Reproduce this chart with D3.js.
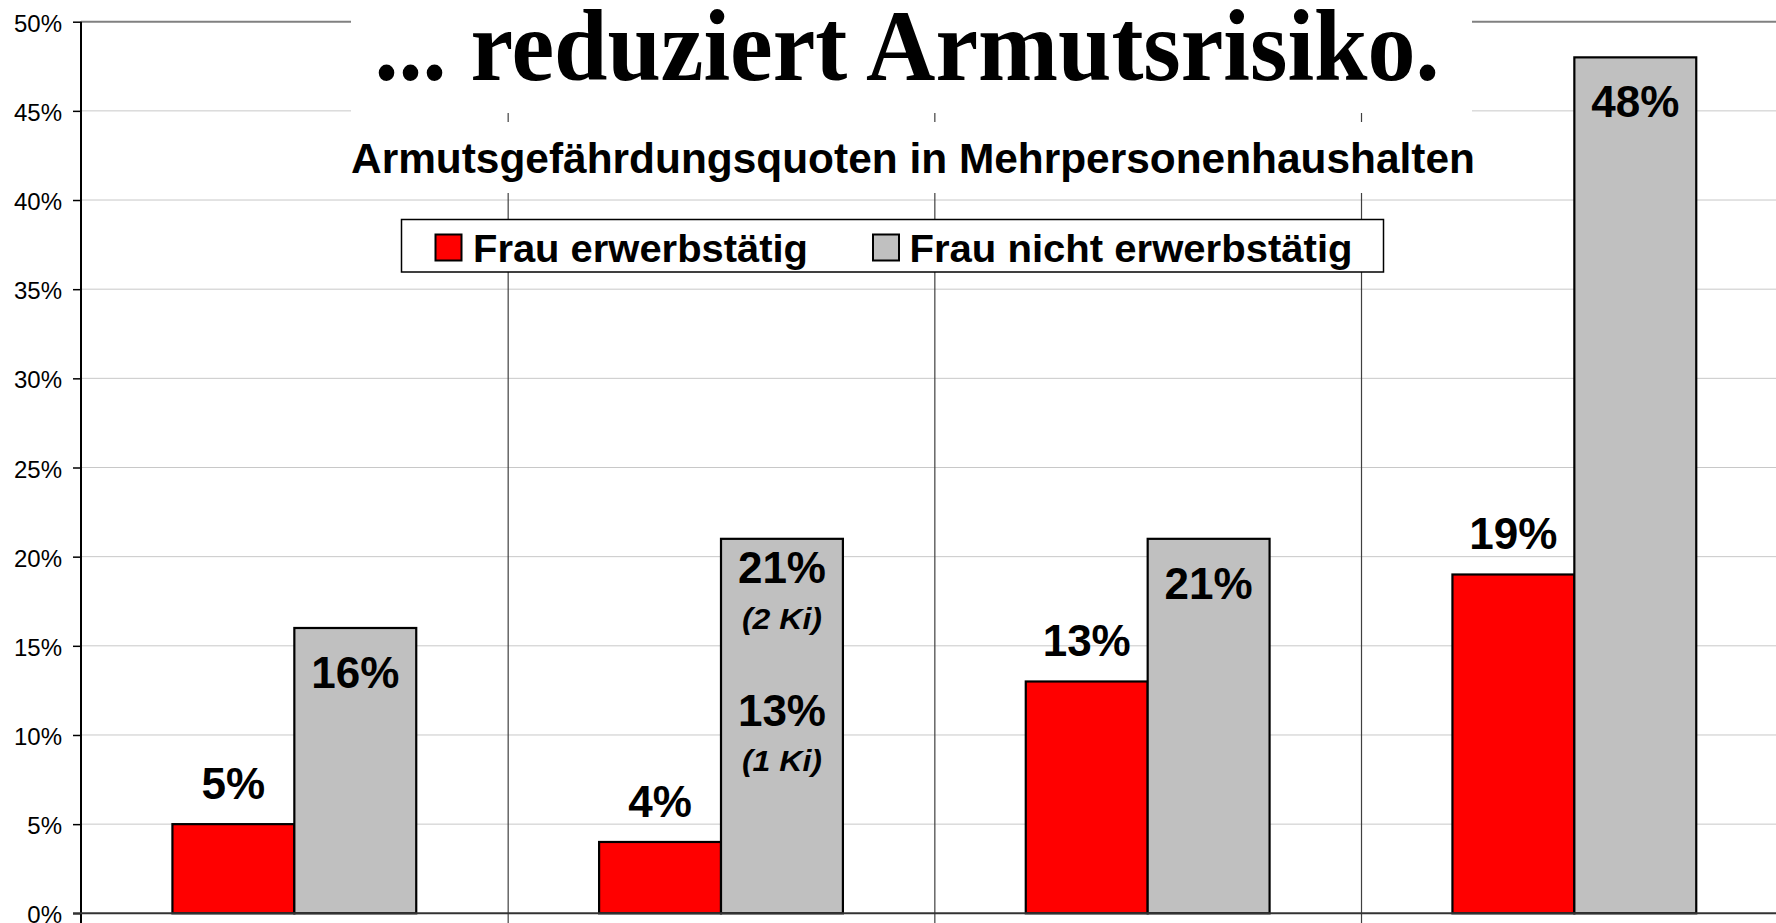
<!DOCTYPE html>
<html>
<head>
<meta charset="utf-8">
<script src="https://cdn.jsdelivr.net/npm/d3@7"></script>
<style>
  html, body { margin: 0; padding: 0; background: #fff; overflow: hidden; }
  svg { display: block; font-family: "Liberation Sans", Arial, sans-serif; }
</style>
</head>
<body>
<svg id="chart" width="1776" height="923"></svg>
<script>
// data
const categories = ["Gruppe 1", "Gruppe 2", "Gruppe 3", "Gruppe 4"];
const seriesNames = ["Frau erwerbstätig", "Frau nicht erwerbstätig"];
const seriesColors = ["#ff0000", "#c0c0c0"];
const womanWorking = [0.05, 0.04, 0.13, 0.19];
const womanNotWorking = [0.16, 0.21, 0.21, 0.48];
const yTicks = [0, 0.05, 0.1, 0.15, 0.2, 0.25, 0.3, 0.35, 0.4, 0.45, 0.5];
// extra notes in the second group (by number of kids)
const kidsCategory = "Gruppe 2";
const kidsValues = [0.21, 0.13];
const kidsLabels = ["(2 Ki)", "(1 Ki)"];

const titleText = "... reduziert Armutsrisiko.";
const subtitleText = "Armutsgefährdungsquoten in Mehrpersonenhaushalten";

const svg = d3.select("#chart");
const plotLeft = 81, plotTop = 21.7, plotBottom = 913.3;
const bandW = 426.67;

const x = d3.scaleBand().domain(categories).range([plotLeft, plotLeft + bandW * categories.length]).padding(0);
const xs = d3.scaleBand().domain(seriesNames).range([0, x.bandwidth()]).paddingInner(0).paddingOuter(0.75);
const y = d3.scaleLinear().domain([0, 0.5]).range([plotBottom, plotTop]);
const pct = d3.format(".0%");

// horizontal gridlines
svg.append("g")
  .selectAll("line")
  .data(yTicks.slice(1, -1))
  .join("line")
  .attr("x1", plotLeft).attr("x2", 1776)
  .attr("y1", (d) => y(d)).attr("y2", (d) => y(d))
  .attr("stroke", "#c8c8c8").attr("stroke-width", 1);

// plot border top
svg.append("line")
  .attr("x1", plotLeft).attr("x2", 1776)
  .attr("y1", y(0.5)).attr("y2", y(0.5))
  .attr("stroke", "#808080").attr("stroke-width", 2);

// vertical gridlines between categories (run through the axis as ticks)
svg.append("g")
  .selectAll("line")
  .data(categories.slice(1))
  .join("line")
  .attr("x1", (d) => x(d) + 0.5).attr("x2", (d) => x(d) + 0.5)
  .attr("y1", y(0.5)).attr("y2", plotBottom + 12)
  .attr("stroke", "#404040").attr("stroke-width", 1.2);

// bars
const rows = categories.map((c, i) => ({ cat: c, values: [womanWorking[i], womanNotWorking[i]] }));
const groups = svg.append("g")
  .selectAll("g")
  .data(rows)
  .join("g")
  .attr("transform", (d) => `translate(${x(d.cat)},0)`);

groups.selectAll("rect")
  .data((d) => d.values.map((v, j) => ({ v, s: seriesNames[j], j })))
  .join("rect")
  .attr("x", (d) => xs(d.s))
  .attr("y", (d) => y(d.v))
  .attr("width", xs.bandwidth())
  .attr("height", (d) => y(0) - y(d.v))
  .attr("fill", (d) => seriesColors[d.j])
  .attr("stroke", "#000")
  .attr("stroke-width", 2.2);

// y axis
const yAxis = svg.append("g")
  .attr("transform", `translate(${plotLeft},0)`)
  .call(d3.axisLeft(y).tickValues(yTicks).tickFormat(pct).tickSize(8).tickPadding(11));
yAxis.select(".domain").remove();
yAxis.selectAll("line").attr("stroke", "#000").attr("stroke-width", 1.5);
yAxis.selectAll("text")
  .attr("font-family", "'Liberation Sans', Arial, sans-serif")
  .attr("font-size", 24)
  .attr("fill", "#000")
  .attr("dy", "0.4em");

svg.append("line")
  .attr("x1", plotLeft).attr("x2", plotLeft)
  .attr("y1", y(0.5)).attr("y2", 923)
  .attr("stroke", "#000").attr("stroke-width", 2);

// x axis line
svg.append("line")
  .attr("x1", plotLeft - 8).attr("x2", 1776)
  .attr("y1", plotBottom).attr("y2", plotBottom)
  .attr("stroke", "#333").attr("stroke-width", 2);

// value labels
groups.append("text")
  .attr("x", xs(seriesNames[0]) + xs.bandwidth() / 2)
  .attr("y", (d) => y(d.values[0]) - 25)
  .attr("text-anchor", "middle")
  .attr("font-weight", "bold")
  .attr("font-size", 44)
  .text((d) => pct(d.values[0]));

groups.append("text")
  .attr("x", xs(seriesNames[1]) + xs.bandwidth() / 2)
  .attr("y", (d) => y(d.values[1]) + (d.cat === kidsCategory ? 44 : 60))
  .attr("text-anchor", "middle")
  .attr("font-weight", "bold")
  .attr("font-size", 44)
  .text((d) => pct(d.values[1]));

// kids notes inside the second group's grey bar
const kidsX = x(kidsCategory) + xs(seriesNames[1]) + xs.bandwidth() / 2;
kidsValues.forEach((v, i) => {
  if (i > 0) {
    svg.append("text")
      .attr("x", kidsX).attr("y", y(v) + 45)
      .attr("text-anchor", "middle")
      .attr("font-weight", "bold").attr("font-size", 44)
      .text(pct(v));
  }
  svg.append("text")
    .attr("x", kidsX).attr("y", y(v) + 90)
    .attr("text-anchor", "middle")
    .attr("font-weight", "bold").attr("font-style", "italic")
    .attr("font-size", 30)
    .attr("textLength", 80)
    .attr("lengthAdjust", "spacingAndGlyphs")
    .text(kidsLabels[i]);
});

// title with white background
svg.append("rect")
  .attr("x", 351).attr("y", 0).attr("width", 1121).attr("height", 113)
  .attr("fill", "#fff");
svg.append("text")
  .attr("x", 907).attr("y", 80)
  .attr("text-anchor", "middle")
  .attr("font-family", "'Liberation Serif', 'Times New Roman', serif")
  .attr("font-weight", "bold")
  .attr("font-size", 101)
  .attr("textLength", 1065)
  .attr("lengthAdjust", "spacingAndGlyphs")
  .text(titleText);

svg.append("rect")
  .attr("x", 351).attr("y", 122).attr("width", 1127).attr("height", 71)
  .attr("fill", "#fff");
svg.append("text")
  .attr("x", 913).attr("y", 172.5)
  .attr("text-anchor", "middle")
  .attr("font-weight", "bold")
  .attr("font-size", 42)
  .attr("textLength", 1124)
  .attr("lengthAdjust", "spacingAndGlyphs")
  .text(subtitleText);

// legend
const legend = svg.append("g");
legend.append("rect")
  .attr("x", 401.5).attr("y", 219.5).attr("width", 982).attr("height", 52.5)
  .attr("fill", "#fff").attr("stroke", "#000").attr("stroke-width", 1.5);
const legendX = [435.5, 873];
const legendTextX = [473, 909.5];
const legendTextW = [335, 443];
seriesNames.forEach((name, i) => {
  legend.append("rect")
    .attr("x", legendX[i]).attr("y", 234.5).attr("width", 26).attr("height", 26)
    .attr("fill", seriesColors[i]).attr("stroke", "#000").attr("stroke-width", 2);
  legend.append("text")
    .attr("x", legendTextX[i]).attr("y", 261.5)
    .attr("font-weight", "bold")
    .attr("font-size", 39)
    .attr("textLength", legendTextW[i])
    .attr("lengthAdjust", "spacingAndGlyphs")
    .text(name);
});
</script>
</body>
</html>
